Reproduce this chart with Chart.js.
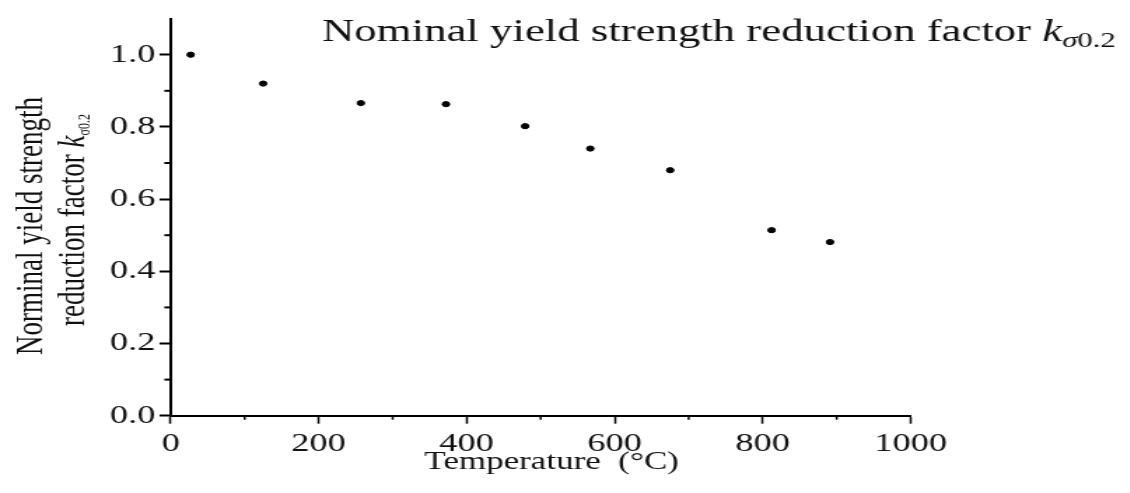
<!DOCTYPE html>
<html>
<head>
<meta charset="utf-8">
<script src="https://cdn.jsdelivr.net/npm/chart.js@4.4.1/dist/chart.umd.min.js"></script>
<style>
  html, body { margin: 0; padding: 0; background: #fff; overflow: hidden; }
  /* the figure is drawn narrow and stretched sideways, like the original print */
  #wrap { width: 807px; height: 493px; transform: scaleX(1.4); transform-origin: 0 0; }
</style>
</head>
<body>
<div id="wrap"><canvas id="kChart"></canvas></div>
<script>
const temperatures = [27, 125, 257, 372, 479, 567, 675, 812, 891];
const reductionFactors = [1.0, 0.92, 0.866, 0.863, 0.802, 0.74, 0.68, 0.514, 0.481];
const xMajorTicks = [0, 200, 400, 600, 800, 1000];
const xMinorTicks = [100, 300, 500, 700, 900];
const yMajorTicks = [0, 0.2, 0.4, 0.6, 0.8, 1.0];
const yMinorTicks = [0.1, 0.3, 0.5, 0.7, 0.9];

const SERIF = '"Liberation Serif", "Times New Roman", serif';

// draw a row of text pieces (font changes, sub-scripts) one after the other
function drawRuns(ctx, runs, x, y, align) {
  let total = 0;
  runs.forEach(r => { ctx.font = r.font; total += ctx.measureText(r.text).width; });
  let cx = align === 'center' ? x - total / 2 : x;
  runs.forEach(r => {
    ctx.font = r.font;
    ctx.fillText(r.text, cx, y + (r.dy || 0));
    cx += ctx.measureText(r.text).width;
  });
}

const labelsPlugin = {
  id: 'labels',
  afterDraw(chart) {
    const ctx = chart.ctx;
    const xs = chart.scales.x, ys = chart.scales.y;
    const area = chart.chartArea;

    // minor ticks
    ctx.save();
    ctx.strokeStyle = '#000';
    ctx.lineWidth = 2;
    yMinorTicks.forEach(v => {
      const py = ys.getPixelForValue(v);
      ctx.beginPath();
      ctx.moveTo(area.left - 4.5, py);
      ctx.lineTo(area.left, py);
      ctx.stroke();
    });
    ctx.lineWidth = 1.5;
    xMinorTicks.forEach(v => {
      const px = xs.getPixelForValue(v);
      ctx.beginPath();
      ctx.moveTo(px, area.bottom);
      ctx.lineTo(px, area.bottom + 4);
      ctx.stroke();
    });
    ctx.restore();

    ctx.save();
    ctx.fillStyle = '#111';
    ctx.textBaseline = 'alphabetic';

    // title in the top right
    drawRuns(ctx, [
      { text: 'Nominal yield strength reduction factor ', font: `32px ${SERIF}` },
      { text: 'k', font: `italic 32px ${SERIF}` },
      { text: 'σ', font: `italic 22px ${SERIF}`, dy: 6 },
      { text: '0.2', font: `22px ${SERIF}`, dy: 6 }
    ], 230, 41, 'left');

    // x axis title
    drawRuns(ctx, [
      { text: 'Temperature  (°C)', font: `25px ${SERIF}` }
    ], 394, 469, 'center');

    // y axis title, two lines
    ctx.save();
    ctx.translate(30, 226);
    ctx.rotate(-Math.PI / 2);
    drawRuns(ctx, [{ text: 'Norminal yield strength', font: `27px ${SERIF}` }], 0, 0, 'center');
    ctx.restore();

    ctx.save();
    ctx.translate(60, 220);
    ctx.rotate(-Math.PI / 2);
    drawRuns(ctx, [
      { text: 'reduction factor ', font: `27px ${SERIF}` },
      { text: 'k', font: `italic 27px ${SERIF}` },
      { text: 'σ0.2', font: `12px ${SERIF}`, dy: 4 }
    ], 0, 0, 'center');
    ctx.restore();

    ctx.restore();
  }
};

new Chart(document.getElementById('kChart'), {
  type: 'scatter',
  data: {
    datasets: [{
      label: 'k',
      data: temperatures.map((t, i) => ({ x: t, y: reductionFactors[i] })),
      backgroundColor: '#000',
      borderColor: '#000',
      pointRadius: 2.6,
      pointHoverRadius: 2.6
    }]
  },
  options: {
    responsive: true,
    maintainAspectRatio: false,
    animation: false,
    layout: { padding: { left: 0, right: 156.5, top: 10, bottom: 0 } },
    plugins: { legend: { display: false }, tooltip: { enabled: false } },
    scales: {
      x: {
        type: 'linear',
        min: 0,
        max: 1000,
        afterBuildTicks: s => { s.ticks = xMajorTicks.map(v => ({ value: v })); },
        afterFit: s => { s.height = 77.3; },
        ticks: {
          color: '#111',
          padding: 5,
          font: { family: SERIF, size: 26 },
          callback: v => String(v)
        },
        grid: { drawOnChartArea: false, tickLength: 8, tickColor: '#000', tickWidth: 1.5 },
        border: { color: '#000', width: 2 }
      },
      y: {
        min: 0,
        max: 1.1,
        afterBuildTicks: s => { s.ticks = yMajorTicks.map(v => ({ value: v })); },
        afterFit: s => { s.width = 121.9; },
        ticks: {
          color: '#111',
          padding: 3,
          font: { family: SERIF, size: 26 },
          callback: v => v.toFixed(1)
        },
        grid: { drawOnChartArea: false, tickLength: 8, tickColor: '#000', tickWidth: 2 },
        border: { color: '#000', width: 2 }
      }
    }
  },
  plugins: [labelsPlugin]
});
</script>
</body>
</html>
